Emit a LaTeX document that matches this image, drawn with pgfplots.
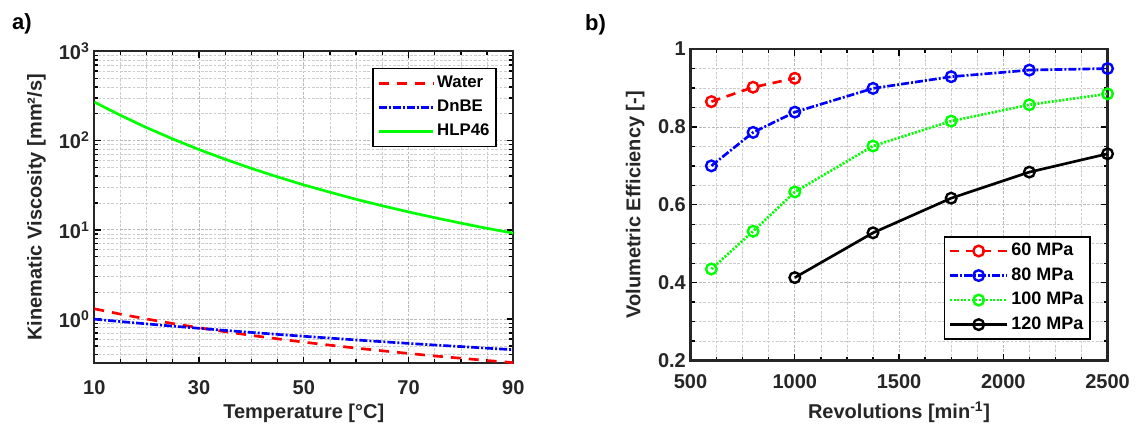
\documentclass[border=0pt]{standalone}
\usepackage{fontspec}
\setmainfont{Liberation Sans}
\usepackage{pgfplots}
\pgfplotsset{compat=1.18}
\definecolor{mred}{RGB}{255,0,0}
\definecolor{mblue}{RGB}{0,0,255}
\definecolor{mgreen}{RGB}{0,255,0}
\pgfplotsset{
  mstyle/.style={
    scale only axis,
    axis line style={line width=1.6pt, black!85},
    every tick/.style={black, line width=1pt},
    major tick length=5pt, minor tick length=3pt,
    grid=both,
    major grid style={gray!55, dash pattern=on 2pt off 1.2pt, line width=0.6pt},
    minor grid style={gray!40, dash pattern=on 2pt off 1.2pt, line width=0.5pt},
    tick label style={font=\fontsize{15}{17}\selectfont\bfseries, text=black!85},
    label style={font=\fontsize{15}{17}\selectfont\bfseries, text=black!85},
    /pgf/number format/assume math mode=true,
    /pgf/number format/1000 sep={},
    scaled ticks=false,
    xticklabel style={anchor=center},
  }
}
\begin{document}
\begin{tikzpicture}
\path[use as bounding box] (0pt,0pt) rectangle (852.75pt,-320.25pt);
\node[font=\fontsize{16.5}{18}\selectfont\bfseries] at (16.5pt,-17.6pt) {a)};
\node[font=\fontsize{16.5}{18}\selectfont\bfseries] at (446.6pt,-18.75pt) {b)};

\begin{axis}[mstyle,
  at={(70.7pt,-272.5pt)}, anchor=south west,
  width=314.25pt, height=234pt,
  xmin=10, xmax=90, xtick={10,30,50,70,90}, minor x tick num=3,
  ymode=log, ymin=0.32, ymax=1000,
  ytick={1,10,100,1000},
  yticklabels={{10\textsuperscript{0}},{10\textsuperscript{1}},{10\textsuperscript{2}},{10\textsuperscript{3}}},
  minor ytick={0.4,0.5,0.6,0.7,0.8,0.9,2,3,4,5,6,7,8,9,20,30,40,50,60,70,80,90,200,300,400,500,600,700,800,900},
  xticklabel style={yshift=-18pt},
  xlabel={Temperature [°C]},
  ylabel={Kinematic Viscosity [mm²/s]},
  xlabel style={at={(axis description cs:0.5,-0.160)}, anchor=center},
  ylabel style={at={(axis description cs:-0.138,0.5)}, anchor=center},
  legend style={at={(axis description cs:0.961,0.947)}, anchor=north east,
    draw=black, line width=1.2pt, fill=white,
    font=\fontsize{12.6}{14}\selectfont\bfseries,
    inner xsep=3pt, inner ysep=2pt,
    nodes={inner ysep=3.3pt, text height=9pt, text depth=2.5pt}},
  legend cell align=left,
  legend image code/.code={\draw[#1] (0pt,0pt) -- (41pt,0pt);},
]
\addplot[mred, line width=2pt, dash pattern=on 7.5pt off 6pt] coordinates {
(10,1.306) (15,1.139) (20,1.004) (25,0.893) (30,0.801) (35,0.724) (40,0.658) (45,0.602) (50,0.553)
(55,0.511) (60,0.474) (65,0.442) (70,0.413) (75,0.387) (80,0.365) (85,0.344) (90,0.326)};
\addlegendentry{Water}
\addplot[mblue, line width=2pt, dash pattern=on 6pt off 1.5pt on 1.5pt off 1.5pt] coordinates {
(10,1.000) (15,0.940) (20,0.885) (25,0.835) (30,0.790) (35,0.748) (40,0.710) (45,0.675) (50,0.643)
(55,0.613) (60,0.585) (65,0.559) (70,0.535) (75,0.513) (80,0.493) (85,0.473) (90,0.455)};
\addlegendentry{DnBE}
\addplot[mgreen, line width=2pt] coordinates {
(10,270) (15,191.8) (20,139.7) (25,104.2) (30,79.4) (35,61.8) (40,48.8) (45,39.2) (50,31.9)
(55,26.4) (60,22.0) (65,18.6) (70,15.9) (75,13.7) (80,11.9) (85,10.4) (90,9.2)};
\addlegendentry{HLP46}
\end{axis}

\begin{axis}[mstyle,
  at={(517.9pt,-270.4pt)}, anchor=south west,
  width=312.75pt, height=233.6pt,
  xmin=500, xmax=2500, xtick={500,1000,1500,2000,2500}, minor x tick num=3,
  ymin=0.2, ymax=1, ytick={0.2,0.4,0.6,0.8,1}, minor y tick num=3,
  yticklabel style={/pgf/number format/fixed},
  xticklabel style={yshift=-15.9pt},
  xlabel={Revolutions [min\textsuperscript{-1}]},
  ylabel={Volumetric Efficiency [-]},
  xlabel style={at={(axis description cs:0.5,-0.165)}, anchor=center},
  ylabel style={at={(axis description cs:-0.133,0.5)}, anchor=center},
  legend style={at={(axis description cs:0.960,0.400)}, anchor=north east,
    draw=black, line width=1.2pt, fill=white,
    font=\fontsize{13.5}{15}\selectfont\bfseries,
    inner xsep=3pt, inner ysep=1.5pt,
    nodes={inner ysep=3.2pt, text height=9.5pt, text depth=2.5pt}},
  legend cell align=left,
  legend image code/.code={\draw[mark repeat=2,mark phase=2,#1] plot coordinates {(0pt,0pt) (21.5pt,0pt) (43pt,0pt)};},
]
\addplot[mred, line width=2pt, dash pattern=on 7pt off 5pt, mark=o, mark size=4pt, mark options={solid, line width=1.8pt}] coordinates {
(600,0.865) (800,0.902) (1000,0.925)};
\addlegendentry{60 MPa}
\addplot[mblue, line width=2pt, dash pattern=on 6pt off 1.5pt on 1.5pt off 1.5pt, mark=o, mark size=4pt, mark options={solid, line width=1.8pt}] coordinates {
(600,0.700) (800,0.786) (1000,0.838) (1375,0.899) (1750,0.929) (2125,0.946) (2500,0.950)};
\addlegendentry{80 MPa}
\addplot[mgreen, line width=2pt, dash pattern=on 1.5pt off 1.2pt, mark=o, mark size=4pt, mark options={solid, line width=1.8pt}] coordinates {
(600,0.435) (800,0.532) (1000,0.633) (1375,0.751) (1750,0.815) (2125,0.857) (2500,0.885)};
\addlegendentry{100 MPa}
\addplot[black, line width=2pt, mark=o, mark size=4pt, mark options={solid, line width=1.8pt}] coordinates {
(1000,0.413) (1375,0.528) (1750,0.617) (2125,0.684) (2500,0.731)};
\addlegendentry{120 MPa}
\end{axis}
\end{tikzpicture}
\end{document}
